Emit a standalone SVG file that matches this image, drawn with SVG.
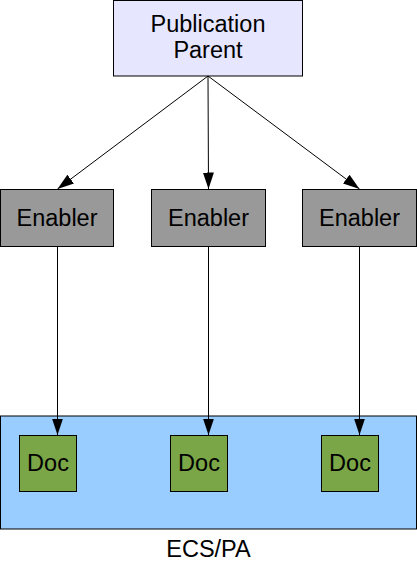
<svg xmlns="http://www.w3.org/2000/svg" width="417" height="568" viewBox="0 0 417 568">
<style>
text{font-family:"Liberation Sans",Arial,sans-serif;font-size:23.5px;fill:#000;text-anchor:middle}
.box{stroke:#000;stroke-width:1}
.parent{fill:#e6e6ff}
.enabler{fill:#999999}
.doc{fill:#7aa647}
.area{fill:#99ccff}
.conn{stroke:#000;stroke-width:1;fill:none}
</style>
<defs>
<marker id="ah" markerUnits="userSpaceOnUse" markerWidth="17" markerHeight="11" refX="16.5" refY="5.5" orient="auto">
<path d="M0,0 L16.5,5.5 L0,11 Z" fill="#000"/>
</marker>
</defs>
<g id="area">
<rect class="box area" x="0.5" y="416" width="416" height="113"/>
<text x="208.5" y="556.5">ECS/PA</text>
</g>
<g id="parent">
<rect class="box parent" x="113.5" y="0.5" width="189" height="75.5"/>
<text x="208" y="32">Publication</text>
<text x="208" y="58">Parent</text>
</g>
<g id="enabler1">
<rect class="box enabler" x="0.5" y="189.5" width="113" height="57"/>
<text x="57" y="226">Enabler</text>
</g>
<g id="enabler2">
<rect class="box enabler" x="151.5" y="189.5" width="114" height="57"/>
<text x="208.5" y="226">Enabler</text>
</g>
<g id="enabler3">
<rect class="box enabler" x="302.5" y="189.5" width="114" height="57"/>
<text x="359.5" y="226">Enabler</text>
</g>
<g id="doc1">
<rect class="box doc" x="19.5" y="435.5" width="57" height="56"/>
<text x="48" y="471">Doc</text>
</g>
<g id="doc2">
<rect class="box doc" x="170.5" y="435.5" width="57" height="56"/>
<text x="199" y="471">Doc</text>
</g>
<g id="doc3">
<rect class="box doc" x="321.5" y="435.5" width="57" height="56"/>
<text x="350" y="471">Doc</text>
</g>
<g id="connectors">
<line class="conn" x1="208" y1="76" x2="57.5" y2="189" marker-end="url(#ah)"/>
<line class="conn" x1="208" y1="76" x2="208.5" y2="189" marker-end="url(#ah)"/>
<line class="conn" x1="208" y1="76" x2="359.5" y2="189" marker-end="url(#ah)"/>
<line class="conn" x1="57.5" y1="246.5" x2="57.5" y2="435" marker-end="url(#ah)"/>
<line class="conn" x1="208.5" y1="246.5" x2="208.5" y2="435" marker-end="url(#ah)"/>
<line class="conn" x1="359.5" y1="246.5" x2="359.5" y2="435" marker-end="url(#ah)"/>
</g>
</svg>
